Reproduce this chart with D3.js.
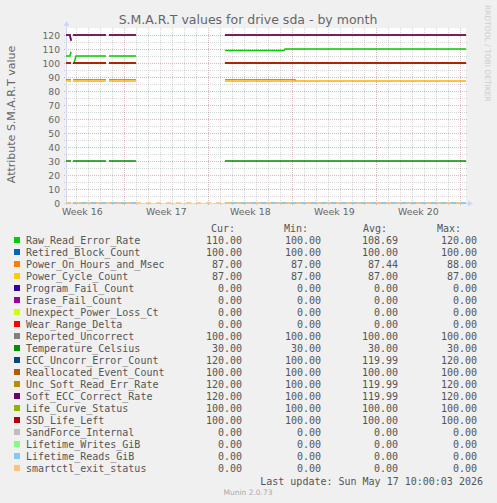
<!DOCTYPE html>
<html>
<head>
<meta charset="utf-8">
<script src="https://cdn.jsdelivr.net/npm/d3@7/dist/d3.min.js"></script>
<style>
  body { margin: 0; background: #f0f0f0; }
  svg text { font-family: "DejaVu Sans", sans-serif; fill: #666; }
  svg text.mono { font-family: "DejaVu Sans Mono", monospace; fill: #555; }
</style>
</head>
<body>
<svg id="chart" width="497" height="503"></svg>
<script>
// legend rows
const names = ["Raw_Read_Error_Rate", "Retired_Block_Count", "Power_On_Hours_and_Msec", "Power_Cycle_Count",
  "Program_Fail_Count", "Erase_Fail_Count", "Unexpect_Power_Loss_Ct", "Wear_Range_Delta",
  "Reported_Uncorrect", "Temperature_Celsius", "ECC_Uncorr_Error_Count", "Reallocated_Event_Count",
  "Unc_Soft_Read_Err_Rate", "Soft_ECC_Correct_Rate", "Life_Curve_Status", "SSD_Life_Left",
  "SandForce_Internal", "Lifetime_Writes_GiB", "Lifetime_Reads_GiB", "smartctl_exit_status"];
const colors = ["#00CC00", "#0066B3", "#FF8000", "#FFCC00", "#330099", "#990099", "#CCFF00", "#FF0000",
  "#808080", "#008F00", "#00487D", "#B35A00", "#B38F00", "#6B006B", "#8FB300", "#B30000",
  "#BEBEBE", "#80FF80", "#80C9FF", "#FFC080"];
const curVals = [110, 100, 87, 87, 0, 0, 0, 0, 100, 30, 120, 100, 120, 120, 100, 100, 0, 0, 0, 0];
const minVals = [100, 100, 87, 87, 0, 0, 0, 0, 100, 30, 100, 100, 100, 100, 100, 100, 0, 0, 0, 0];
const avgVals = [108.69, 100, 87.44, 87, 0, 0, 0, 0, 100, 30, 119.99, 100, 119.99, 119.99, 100, 100, 0, 0, 0, 0];
const maxVals = [120, 100, 88, 87, 0, 0, 0, 0, 100, 30, 120, 100, 120, 120, 100, 100, 0, 0, 0, 0];

// x axis: days since graph start, week boundaries and labels
const weekStarts = [4.86, 11.86, 18.86, 25.86, 32.86];
const weekLabels = ["Week 16", "Week 17", "Week 18", "Week 19", "Week 20"];
const yTicks = [0, 10, 20, 30, 40, 50, 60, 70, 80, 90, 100, 110, 120];

// periods where the drive reported values (day from, day to)
const spans = [[0, 0.42], [0.58, 3.33], [3.58, 5.83], [13.25, 33.33]];
function flat(v) {
  return spans.flatMap(s => [[s[0], v], [s[1], v], null]);
}

const rawReadPts = [[0, 105], [0.33, 105], [0.42, 108], null, [0.58, 100], [0.67, 100], [0.83, 105], [3.33, 105], null,
  [3.58, 105], [5.83, 105], null, [13.25, 109], [18.17, 109], [18.25, 110], [33.33, 110]];
const powerOnPts = [[0, 88], [0.42, 88], null, [0.58, 88], [3.33, 88], null, [3.58, 88], [5.83, 88], null,
  [13.25, 88], [19.08, 88], [19.17, 87], [33.33, 87]];
const eccPts = [[0, 120], [0.33, 120], [0.42, 116], null, [0.58, 120], [3.33, 120], null, [3.58, 120], [5.83, 120], null,
  [13.25, 120], [33.33, 120]];
const exitPts = [[0, 0], [33.33, 0]];

const series = [rawReadPts, flat(100), powerOnPts, flat(87), flat(0), flat(0), flat(0), flat(0),
  flat(100), flat(30), eccPts, flat(100), eccPts, eccPts, flat(100), flat(100),
  flat(0), flat(0), flat(0), exitPts];

const svg = d3.select("#chart");
const plot = {left: 66, right: 466, top: 28, bottom: 203};

const x = d3.scaleLinear().domain([0, 33.33]).range([plot.left, plot.right]);
const y = d3.scaleLinear().domain([0, 125]).range([plot.bottom, plot.top]);

// canvas
svg.append("rect")
  .attr("x", plot.left).attr("y", plot.top)
  .attr("width", plot.right - plot.left).attr("height", plot.bottom - plot.top)
  .attr("fill", "#fff");

const minorGrid = "rgba(140,140,140,0.35)";
const majorGrid = "rgba(130,30,30,0.3)";

// minor grid: one line per day, skipping the week boundaries
const days = d3.range(0, 35)
  .filter(k => k % 7 != 0)
  .map(k => weekStarts[0] - 7 + k)
  .filter(d => d > 0 && d < 33.33);
svg.append("g").selectAll("line").data(days).join("line")
  .attr("x1", d => Math.round(x(d)) + 0.5).attr("x2", d => Math.round(x(d)) + 0.5)
  .attr("y1", plot.top).attr("y2", plot.bottom + 2)
  .attr("stroke", minorGrid).attr("stroke-dasharray", "1,1");
svg.append("g").selectAll("line").data(d3.range(5, 125, 10)).join("line")
  .attr("x1", plot.left - 2).attr("x2", plot.right + 2)
  .attr("y1", d => Math.round(y(d)) + 0.5).attr("y2", d => Math.round(y(d)) + 0.5)
  .attr("stroke", minorGrid).attr("stroke-dasharray", "1,1");

// major grid
svg.append("g").selectAll("line").data(weekStarts).join("line")
  .attr("x1", d => Math.round(x(d)) + 0.5).attr("x2", d => Math.round(x(d)) + 0.5)
  .attr("y1", plot.top).attr("y2", plot.bottom + 3)
  .attr("stroke", majorGrid).attr("stroke-dasharray", "1,1");
svg.append("g").selectAll("line").data(yTicks).join("line")
  .attr("x1", plot.left - 2).attr("x2", plot.right + 2)
  .attr("y1", d => Math.round(y(d)) + 0.5).attr("y2", d => Math.round(y(d)) + 0.5)
  .attr("stroke", majorGrid).attr("stroke-dasharray", "1,1");

// tick labels
svg.append("g").selectAll("text").data(yTicks).join("text")
  .attr("x", plot.left - 6).attr("y", d => y(d) + 3.5)
  .attr("text-anchor", "end").attr("font-size", "9.2px")
  .text(d => d);
svg.append("g").selectAll("text").data(weekStarts).join("text")
  .attr("x", d => x(d - 3.5)).attr("y", 215)
  .attr("text-anchor", "middle").attr("font-size", "9.4px")
  .text((d, i) => weekLabels[i]);

// axes + arrows
svg.append("line").attr("x1", plot.left - 2).attr("x2", plot.right + 2)
  .attr("y1", plot.bottom + 0.5).attr("y2", plot.bottom + 0.5).attr("stroke", "#CFD6F8");
svg.append("line").attr("x1", plot.left + 0.5).attr("x2", plot.left + 0.5)
  .attr("y1", plot.bottom + 2).attr("y2", plot.top - 2).attr("stroke", "#CFD6F8");
svg.append("path").attr("d", "M468,200.5L473,203.5L468,206.5Z").attr("fill", "#CFD6F8");
svg.append("path").attr("d", "M63.5,26L66.5,21L69.5,26Z").attr("fill", "#CFD6F8");

// data lines
const line = d3.line()
  .defined(d => d !== null)
  .x(d => x(d[0]))
  .y(d => y(d[1]));

series.forEach(function(pts, i) {
  svg.append("path")
    .attr("d", line(pts))
    .attr("fill", "none")
    .attr("stroke", colors[i])
    .attr("stroke-width", 1.5)
    .attr("stroke-dasharray", i == series.length - 1 ? "5,5" : null);
});

// titles
svg.append("text").attr("x", 248).attr("y", 24)
  .attr("text-anchor", "middle").attr("font-size", "12.5px")
  .text("S.M.A.R.T values for drive sda - by month");
svg.append("text").attr("transform", "translate(15,114.5) rotate(-90)")
  .attr("text-anchor", "middle").attr("font-size", "11px")
  .text("Attribute S.M.A.R.T value");
svg.append("text").attr("transform", "translate(485,5) rotate(90)")
  .attr("font-size", "7.5px").style("fill", "#ccc")
  .text("RRDTOOL / TOBI OETIKER");

// legend
const colX = [242, 321, 398, 477];
const headX = [235, 308, 387, 461];
["Cur:", "Min:", "Avg:", "Max:"].forEach(function(h, i) {
  svg.append("text").attr("class", "mono").attr("x", headX[i]).attr("y", 231.5)
    .attr("text-anchor", "end").attr("font-size", "10px").text(h);
});

const rows = svg.append("g").selectAll("g").data(names).join("g")
  .attr("transform", (d, i) => "translate(0," + (240 + i * 12) + ")");
rows.append("rect").attr("x", 14).attr("y", -3).attr("width", 6).attr("height", 6)
  .attr("fill", (d, i) => colors[i]);
rows.append("text").attr("class", "mono").attr("x", 26).attr("y", 3.5)
  .attr("font-size", "10px").text(d => d);
[curVals, minVals, avgVals, maxVals].forEach(function(vals, c) {
  rows.append("text").attr("class", "mono").attr("x", colX[c]).attr("y", 3.5)
    .attr("text-anchor", "end").attr("font-size", "10px")
    .text((d, i) => vals[i].toFixed(2));
});

svg.append("text").attr("class", "mono").attr("x", 483).attr("y", 484.5)
  .attr("text-anchor", "end").attr("font-size", "10px")
  .text("Last update: Sun May 17 10:00:03 2026");
svg.append("text").attr("x", 248).attr("y", 494.5)
  .attr("text-anchor", "middle").attr("font-size", "7.5px").style("fill", "#aaa")
  .text("Munin 2.0.73");
</script>
</body>
</html>
